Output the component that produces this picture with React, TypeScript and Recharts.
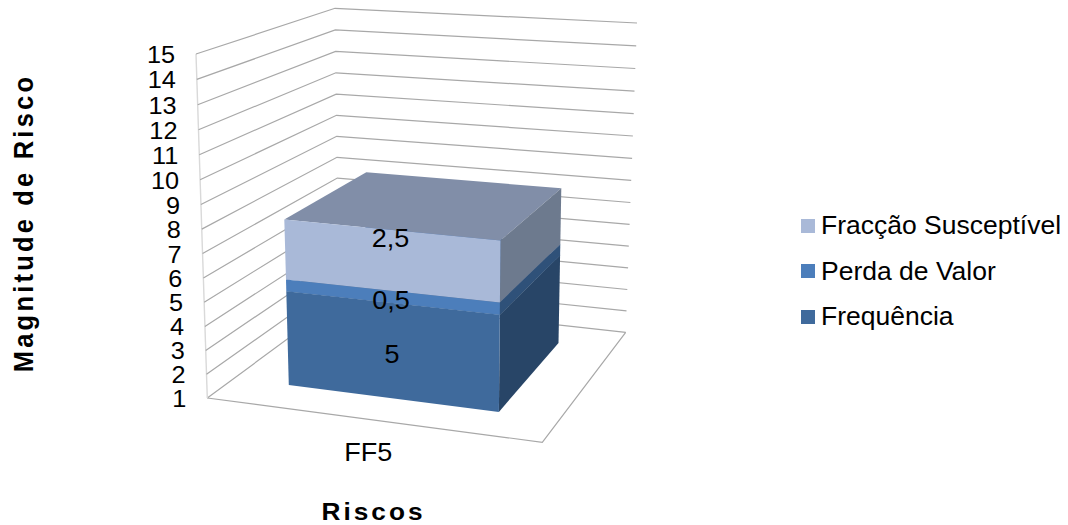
import { BarChart, Bar, XAxis, YAxis, CartesianGrid, Legend, LabelList } from "recharts";

const categories = ["FF5"];
const frequencia = [5];
const perdaValor = [0.5];
const fraccao = [2.5];
const yTicks = [1, 2, 3, 4, 5, 6, 7, 8, 9, 10, 11, 12, 13, 14, 15];

const rows = categories.map((name, i) => ({
  name,
  frequencia: frequencia[i],
  perda: perdaValor[i],
  fraccao: fraccao[i],
}));

const WIDTH = 1068;
const HEIGHT = 525;
// plot rectangle in page pixels; the 3D box is projected from it
const PLOT = { left: 196, top: 8, width: 441, height: 436 };
const FONT = '"Liberation Sans", Arial, sans-serif';

const DEPTH_FRONT = 0.178;
const DEPTH_BACK = 0.823;
const LINE = "#a8a8a8";

type Pt = [number, number];

// unit square -> quad, corners given front-left, front-right, back-right, back-left
function quadMap(p0: Pt, p1: Pt, p2: Pt, p3: Pt) {
  const dx1 = p1[0] - p2[0];
  const dy1 = p1[1] - p2[1];
  const dx2 = p3[0] - p2[0];
  const dy2 = p3[1] - p2[1];
  const sx = p0[0] - p1[0] + p2[0] - p3[0];
  const sy = p0[1] - p1[1] + p2[1] - p3[1];
  const det = dx1 * dy2 - dx2 * dy1;
  const g = (sx * dy2 - dx2 * sy) / det;
  const h = (dx1 * sy - sx * dy1) / det;
  const a = p1[0] - p0[0] + g * p1[0];
  const b = p3[0] - p0[0] + h * p3[0];
  const d = p1[1] - p0[1] + g * p1[1];
  const e = p3[1] - p0[1] + h * p3[1];
  return (u: number, w: number): Pt => {
    const q = g * u + h * w + 1;
    return [(a * u + b * w + p0[0]) / q, (d * u + e * w + p0[1]) / q];
  };
}

const floorMap = quadMap([207.3, 398], [542.3, 442.3], [625.7, 332.3], [339, 301]);
const roofMap = quadMap([196, 54], [552, 79], [637, 23], [335, 8.3]);

function project(u: number, w: number, t: number): Pt {
  const s = t - 0.036 * t * (1 - t);
  const f = floorMap(u, w);
  const r = roofMap(u, w);
  return [f[0] + (r[0] - f[0]) * s, f[1] + (r[1] - f[1]) * s];
}

const toT = (y: number) => (PLOT.top + PLOT.height - y) / PLOT.height;
const toU = (x: number) => (x - PLOT.left) / PLOT.width;
const pts = (list: Pt[]) => list.map((p) => `${p[0].toFixed(1)},${p[1].toFixed(1)}`).join(" ");

// one stacked block: front, right side and top faces
const Block = ({ x, y, width, height, fill, side, top }: any) => {
  const u0 = toU(x);
  const u1 = toU(x + width);
  const t0 = toT(y + height);
  const t1 = toT(y);
  const [wf, wb] = [DEPTH_FRONT, DEPTH_BACK];
  return (
    <g>
      <polygon points={pts([project(u0, wf, t1), project(u0, wb, t1), project(u1, wb, t1), project(u1, wf, t1)])} fill={top} />
      <polygon points={pts([project(u1, wf, t0), project(u1, wb, t0), project(u1, wb, t1), project(u1, wf, t1)])} fill={side} />
      <polygon points={pts([project(u0, wf, t0), project(u1, wf, t0), project(u1, wf, t1), project(u0, wf, t1)])} fill={fill} />
    </g>
  );
};

// wall grid line for one axis value; the lowest one also closes the floor
const WallLine = (props: any) => {
  const t = toT(props.y1);
  const floor = t < 0.001;
  return (
    <g key={props.key}>
      <polyline points={pts([project(0, 0, t), project(0, 1, t), project(1, 1, t)])} fill="none" stroke={LINE} strokeWidth={1.2} />
      {floor && (
        <>
          <polyline points={pts([project(0, 0, 0), project(1, 0, 0), project(1, 1, 0)])} fill="none" stroke={LINE} strokeWidth={1.2} />
          <line x1={project(0, 0, 0)[0]} y1={project(0, 0, 0)[1]} x2={project(0, 0, 1)[0]} y2={project(0, 0, 1)[1]} stroke="#d9d9d9" strokeWidth={1.4} />
        </>
      )}
    </g>
  );
};

const StretchText = ({ x, y, anchor = "middle", size = 25.5, stretch = 1.06, children }: any) => (
  <text
    transform={`translate(${x} ${y}) scale(${stretch} 1)`}
    textAnchor={anchor}
    dominantBaseline="central"
    fontFamily={FONT}
    fontSize={size}
    fill="#000"
  >
    {children}
  </text>
);

const ValueTick = ({ y, payload }: any) => {
  const p = project(0, 0, toT(y));
  return (
    <StretchText x={p[0] - 21} y={p[1] + 1} anchor="end" size={23} stretch={1.1}>
      {payload.value}
    </StretchText>
  );
};

const CategoryTick = ({ x, payload }: any) => {
  const p = project(toU(x), 0, 0);
  return <StretchText x={p[0] - 1} y={p[1] + 33}>{payload.value}</StretchText>;
};

const valueLabel = (dy: number) => (props: any) => {
  const { x, y, width, height, value } = props;
  const p = project(toU(x + width / 2), DEPTH_FRONT, toT(y + height / 2));
  return <StretchText x={p[0] + 1} y={p[1] + dy}>{String(value).replace(".", ",")}</StretchText>;
};

const LegendBox = ({ payload }: any) => (
  <div style={{ fontFamily: FONT, fontSize: 25, color: "#000" }}>
    {[...(payload ?? [])].reverse().map((entry: any) => (
      <div key={entry.value} style={{ height: 45.5, display: "flex", alignItems: "center", whiteSpace: "nowrap" }}>
        <span style={{ width: 14, height: 14, background: entry.color, marginRight: 6, flex: "none" }} />
        <span style={{ display: "inline-block", transform: "scaleX(1.06)", transformOrigin: "left center" }}>{entry.value}</span>
      </div>
    ))}
  </div>
);

export default function App() {
  return (
    <div style={{ position: "absolute", left: 0, top: 0, width: WIDTH, height: HEIGHT, background: "#fff" }}>
      <BarChart
        width={WIDTH}
        height={HEIGHT}
        data={rows}
        barCategoryGap="17.7%"
        margin={{ top: PLOT.top, left: 96, right: WIDTH - PLOT.left - PLOT.width, bottom: 41 }}
      >
        <CartesianGrid vertical={false} horizontal={WallLine} horizontalValues={yTicks} />
        <XAxis dataKey="name" height={40} axisLine={false} tickLine={false} tick={CategoryTick} />
        <YAxis
          type="number"
          domain={[1, 15]}
          allowDataOverflow
          ticks={yTicks}
          interval={0}
          width={100}
          axisLine={false}
          tickLine={false}
          tick={ValueTick}
        />
        <Legend
          layout="vertical"
          align="center"
          verticalAlign="middle"
          itemSorter={null}
          content={LegendBox}
          wrapperStyle={{ left: 801, top: 203, width: 267 }}
        />
        <Bar
          dataKey="frequencia"
          name="Frequência"
          stackId="risco"
          fill="#3f6a9c"
          isAnimationActive={false}
          shape={(p: any) => <Block {...p} side="#284567" top="#2f5179" />}
        >
          <LabelList dataKey="frequencia" content={valueLabel(4)} />
        </Bar>
        <Bar
          dataKey="perda"
          name="Perda de Valor"
          stackId="risco"
          fill="#4c7ebb"
          isAnimationActive={false}
          shape={(p: any) => <Block {...p} side="#2f5179" top="#3a629a" />}
        >
          <LabelList dataKey="perda" content={valueLabel(4)} />
        </Bar>
        <Bar
          dataKey="fraccao"
          name="Fracção Susceptível"
          stackId="risco"
          fill="#a9b9d8"
          isAnimationActive={false}
          shape={(p: any) => <Block {...p} side="#6d7a8e" top="#818ea8" />}
        >
          <LabelList dataKey="fraccao" content={valueLabel(-22)} />
        </Bar>
        <text
          transform="translate(373.5 519.7) scale(1.07 1)"
          textAnchor="middle"
          fontFamily={FONT}
          fontSize={24.5}
          fontWeight="bold"
          letterSpacing={2.8}
        >
          Riscos
        </text>
        <text
          transform="translate(23 223) rotate(-90) scale(1 1.12)"
          textAnchor="middle"
          dominantBaseline="central"
          fontFamily={FONT}
          fontSize={25.5}
          fontWeight="bold"
          letterSpacing={3.2}
        >
          Magnitude de Risco
        </text>
      </BarChart>
    </div>
  );
}
